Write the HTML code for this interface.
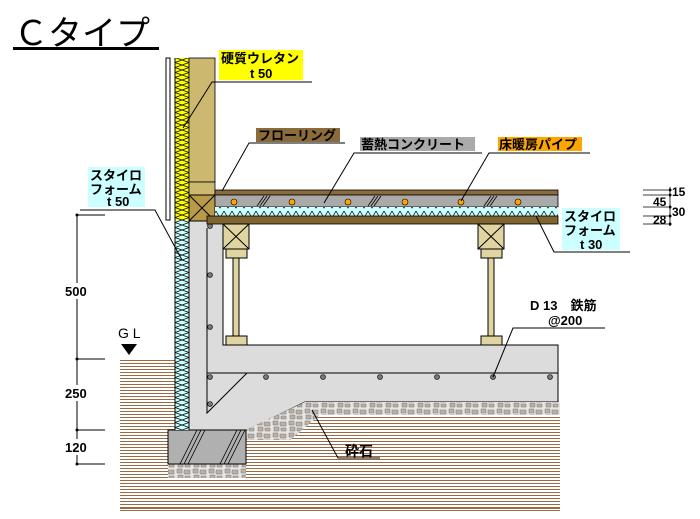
<!DOCTYPE html><html><head><meta charset="utf-8"><style>
body{margin:0;background:#fff}
svg text{font-family:"Liberation Sans","Noto Sans CJK JP",sans-serif;font-weight:bold;fill:#000}
</style></head><body>
<svg width="700" height="514" viewBox="0 0 700 514" xmlns="http://www.w3.org/2000/svg">
<defs>
<pattern id="zzv" width="14" height="10" patternUnits="userSpaceOnUse"><path d="M0,0 L14,5 L0,10 M14,0 L0,5 L14,10" stroke="#000" stroke-width="0.8" fill="none"/></pattern>
<pattern id="zzh" width="8" height="10" patternUnits="userSpaceOnUse"><path d="M0,1 L4,8 L8,1" stroke="#000" stroke-width="0.7" fill="none"/></pattern>
<pattern id="grnd" width="6" height="3" patternUnits="userSpaceOnUse"><rect width="6" height="1" fill="#9a6a45"/></pattern>
<pattern id="grav" width="16" height="12" patternUnits="userSpaceOnUse"><rect width="16" height="12" fill="#e8e4e0"/><path d="M1,1h5v4h-5z M8,2h6v4h-6z M2,7h5v4h-5z M9,8h5v3h-5z" fill="#b8b0aa" stroke="#777" stroke-width="0.5"/></pattern>
</defs>
<!-- title -->
<text x="14" y="45" font-size="34" style="font-weight:normal">Ｃタイプ</text>
<rect x="13" y="47" width="146" height="3" fill="#000"/>
<!-- ground -->
<rect x="120" y="359" width="440" height="152" fill="url(#grnd)"/>
<rect x="120" y="508" width="440" height="1" fill="#9a6a45"/>
<!-- white above ground right of wall (inside) -->
<rect x="189" y="220" width="372" height="182" fill="#fff"/>
<!-- concrete foundation -->
<path d="M189,221 H223 V345 H558 V402 H305 L247,430 H189 Z" fill="#dcdcdc" stroke="#000" stroke-width="1"/>
<path d="M207,228 V413 L247,373 M207,373 H558" stroke="#000" fill="none" stroke-width="1"/>
<!-- gravel -->
<path d="M305,402 H560 V415 H320 L290,440 H223 Z" fill="url(#grav)"/>
<rect x="168" y="464" width="78" height="14" fill="url(#grav)"/>
<!-- footing -->
<rect x="168" y="430" width="78" height="34" fill="#b0b0b0" stroke="#000"/>
<path d="M180,464 L197,430 M184,464 L201,430 M188,464 L205,430 M220,464 L237,430 M224,464 L241,430 M228,464 L245,430" stroke="#000" stroke-width="0.8"/>
<!-- rebars -->
<g fill="#777" stroke="#000" stroke-width="0.6">
<circle cx="210" cy="226" r="2.5"/><circle cx="210" cy="275" r="2.5"/><circle cx="210" cy="327" r="2.5"/><circle cx="210" cy="377" r="2.5"/><circle cx="210" cy="404" r="2.5"/>
<circle cx="266" cy="377" r="2.5"/><circle cx="323" cy="377" r="2.5"/><circle cx="380" cy="377" r="2.5"/><circle cx="437" cy="377" r="2.5"/><circle cx="493" cy="377" r="2.5"/><circle cx="550" cy="377" r="2.5"/>
</g>
<!-- wall exterior -->
<rect x="166" y="58" width="4" height="162" fill="#fff" stroke="#000" stroke-width="1"/>
<rect x="175" y="58" width="14" height="162" fill="#ffff00"/>
<rect x="175" y="58" width="14" height="162" fill="url(#zzv)"/>
<rect x="175" y="220" width="14" height="210" fill="#ccffff"/>
<rect x="175" y="220" width="14" height="210" fill="url(#zzv)"/>
<line x1="175" y1="58" x2="175" y2="430" stroke="#000"/>
<line x1="189" y1="58" x2="189" y2="430" stroke="#000"/>
<rect x="189" y="58" width="26" height="124" fill="#cdb870" stroke="#000" stroke-width="0.8"/>
<rect x="189" y="182" width="26" height="13" fill="#cdb870" stroke="#000" stroke-width="0.8"/>
<rect x="189" y="195" width="26" height="26" fill="#b89a48" stroke="#000"/>
<path d="M189,195 L215,221 M215,195 L189,221" stroke="#000"/>
<!-- floor layers -->
<rect x="215" y="190" width="343" height="5" fill="#8b6b3a" stroke="#000" stroke-width="0.8"/>
<rect x="215" y="195" width="343" height="12" fill="#aaaaaa" stroke="#000" stroke-width="0.8"/>
<rect x="215" y="207" width="343" height="9" fill="#ccffff"/>
<rect x="215" y="207" width="343" height="9" fill="url(#zzh)"/>
<rect x="207" y="216" width="351" height="8" fill="#7f6530" stroke="#000" stroke-width="0.8"/>
<g stroke="#000" stroke-width="0.8">
<path d="M257,206 L264,196 M260,206 L267,196 M263,206 L270,196"/>
<path d="M368,206 L375,196 M371,206 L378,196 M374,206 L381,196"/>
<path d="M484,206 L491,196 M487,206 L494,196 M490,206 L497,196"/>
</g>
<g fill="#ffa500" stroke="#000" stroke-width="0.6">
<circle cx="234" cy="202" r="3"/><circle cx="292" cy="202" r="3"/><circle cx="348" cy="202" r="3"/><circle cx="405" cy="202" r="3"/><circle cx="461" cy="202" r="3"/><circle cx="518" cy="202" r="3"/>
</g>
<!-- sleepers -->
<g fill="#e0d4a0" stroke="#000">
<rect x="223" y="224" width="26" height="25"/><path d="M223,224 L249,249 M249,224 L223,249"/>
<rect x="226" y="249" width="21" height="9"/><rect x="233" y="258" width="6" height="78"/><rect x="226" y="336" width="21" height="9"/>
<rect x="478" y="224" width="26" height="25"/><path d="M478,224 L504,249 M504,224 L478,249"/>
<rect x="481" y="249" width="21" height="9"/><rect x="488" y="258" width="6" height="78"/><rect x="481" y="336" width="21" height="9"/>
</g>
<!-- labels -->
<rect x="219" y="50" width="84" height="30" fill="#ffff00"/>
<text x="221" y="63" font-size="13">硬質ウレタン</text><text x="250" y="78" font-size="13">t 50</text>
<path d="M312,82 H212 L183,128" stroke="#000" fill="none"/>
<rect x="256" y="128" width="84" height="14" fill="#8b6b3a"/>
<text x="258" y="140" font-size="13">フローリング</text>
<path d="M345,143 H249 L222,191" stroke="#000" fill="none"/>
<rect x="360" y="137" width="115" height="14" fill="#aaaaaa"/>
<text x="361" y="149" font-size="13">蓄熱コンクリート</text>
<path d="M482,153 H354 L324,203" stroke="#000" fill="none"/>
<rect x="498" y="137" width="84" height="14" fill="#ffa500"/>
<text x="499" y="149" font-size="13">床暖房パイプ</text>
<path d="M590,153 H489 L461,201" stroke="#000" fill="none"/>
<rect x="562" y="208" width="58" height="42" fill="#ccffff"/>
<text x="564" y="221" font-size="13">スタイロ</text><text x="564" y="235" font-size="13">フォーム</text><text x="580" y="249" font-size="13">t 30</text>
<path d="M630,252 H554 L536,216" stroke="#000" fill="none"/>
<rect x="88" y="167" width="57" height="40" fill="#ccffff"/>
<text x="90" y="180" font-size="13">スタイロ</text><text x="90" y="194" font-size="13">フォーム</text><text x="107" y="206" font-size="13">t 50</text>
<path d="M80,210 H155 L182,260" stroke="#000" fill="none"/>
<text x="530" y="310" font-size="13">D 13　鉄筋</text><text x="548" y="325" font-size="13">@200</text>
<path d="M605,328 H513 L493,377" stroke="#000" fill="none"/>
<text x="345" y="456" font-size="14">砕石</text>
<path d="M380,458 H338 L312,410" stroke="#000" fill="none"/>
<!-- right dims -->
<g stroke="#000" stroke-width="0.8">
<path d="M643,190 H668 M643,195 H668 M643,207 H668 M643,216 H668 M643,224 H668 M670,187 V226"/>
</g>
<g fill="#000"><circle cx="670" cy="190" r="1.5"/><circle cx="670" cy="195" r="1.5"/><circle cx="670" cy="207" r="1.5"/><circle cx="670" cy="216" r="1.5"/><circle cx="670" cy="224" r="1.5"/></g>
<text x="672" y="196" font-size="12">15</text><text x="653" y="206" font-size="12">45</text><text x="672" y="216" font-size="12">30</text><text x="653" y="224" font-size="12">28</text>
<!-- left dims -->
<g stroke="#000"><path d="M77,215 V464 M77,215 H105 M77,359 H105 M77,430 H105 M77,464 H105"/></g>
<g fill="#000"><circle cx="77" cy="359" r="1.5"/><circle cx="77" cy="430" r="1.5"/><circle cx="77" cy="464" r="1.5"/><circle cx="77" cy="215" r="1.5"/></g>
<rect x="64" y="283" width="26" height="16" fill="#fff"/><text x="65" y="296" font-size="13">500</text>
<rect x="64" y="385" width="26" height="16" fill="#fff"/><text x="65" y="398" font-size="13">250</text>
<rect x="64" y="439" width="26" height="16" fill="#fff"/><text x="65" y="452" font-size="13">120</text>
<text x="118" y="338" font-size="14" style="font-weight:normal">G L</text>
<path d="M121,344 H137 L129,355 Z" fill="#000"/>
</svg>
</body></html>
